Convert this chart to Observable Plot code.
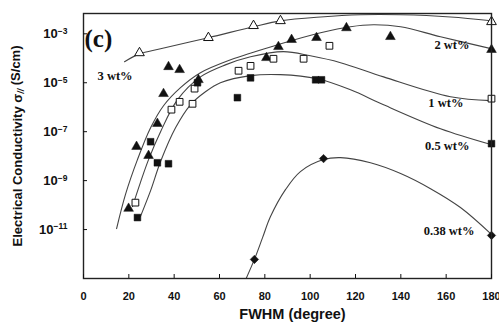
<!DOCTYPE html>
<html><head><meta charset="utf-8">
<script src="https://cdn.jsdelivr.net/npm/d3@7"></script>
<script src="https://cdn.jsdelivr.net/npm/@observablehq/plot@0.6"></script>
<style>
html,body{margin:0;padding:0;background:#fff;}
</style></head><body><div id="chart"></div>
<script>
// ---- Data (FWHM in degrees, conductivity as log10(S/cm)) ----
const fwhm_3wt = [24.7, 55.1, 75.0, 86.9, 180];
const logSigma_3wt = [-3.78, -3.16, -2.67, -2.47, -2.51];

const fwhm_2wt = [19.9, 23.4, 28.7, 32.6, 35.3, 37.5, 42.4, 50.7, 80.7, 86.0, 91.8, 102.8, 116.0, 135.4, 180];
const logSigma_2wt = [-10.14, -7.61, -7.98, -6.67, -5.45, -4.35, -4.47, -4.88, -3.98, -3.53, -3.24, -3.16, -2.76, -3.12, -3.65];

const fwhm_1wt = [22.9, 38.8, 42.4, 48.1, 49.0, 68.4, 73.7, 83.8, 97.1, 108.5, 180];
const logSigma_1wt = [-9.90, -6.10, -5.78, -5.86, -5.24, -4.51, -4.31, -4.02, -4.02, -3.49, -5.65];

const fwhm_05wt = [23.8, 29.6, 32.6, 37.5, 50.3, 67.9, 73.7, 102.4, 105.0, 180];
const logSigma_05wt = [-10.51, -7.41, -8.27, -8.31, -5.0, -5.61, -4.80, -4.88, -4.88, -7.49];

const fwhm_038wt = [75.4, 105.9, 180];
const logSigma_038wt = [-12.22, -8.10, -11.24];

// fitted curves as drawn in the figure
const fitX_3wt = [18.1, 24.7, 34.0, 55.1, 75.0, 86.9, 104.6, 122.2, 139.9, 161.9, 180];
const fitY_3wt = [-4.14, -3.82, -3.61, -3.16, -2.71, -2.47, -2.31, -2.22, -2.22, -2.31, -2.47];

const fitX_2wt = [14.6, 18.5, 23.8, 29.6, 35.3, 42.8, 51.6, 64.9, 85.6, 104.6, 117.8, 127.9, 139.9, 157.5, 180];
const fitY_2wt = [-10.96, -9.57, -8.14, -6.84, -5.94, -5.20, -4.59, -4.06, -3.45, -2.96, -2.71, -2.63, -2.71, -3.12, -3.61];

const fitX_1wt = [21.6, 25.1, 28.7, 34.0, 41.5, 51.6, 62.6, 73.7, 88.2, 100.1, 113.4, 132.4, 161.9, 180];
const fitY_1wt = [-10.06, -9.08, -8.14, -7.0, -5.69, -4.76, -4.27, -3.94, -3.73, -3.90, -4.18, -4.76, -5.57, -5.73];

const fitX_05wt = [25.1, 29.6, 34.0, 40.6, 47.2, 53.8, 60.4, 73.7, 86.9, 103.2, 117.8, 132.4, 157.5, 180];
const fitY_05wt = [-10.47, -9.41, -8.22, -6.84, -5.90, -5.37, -5.0, -4.71, -4.67, -4.84, -5.29, -5.90, -6.88, -7.53];

const fitX_038wt = [70.6, 75.4, 79.0, 82.5, 89.1, 95.7, 105.9, 113.4, 126.6, 139.9, 153.1, 166.3, 180];
const fitY_038wt = [-13.24, -12.22, -11.33, -10.47, -9.37, -8.63, -8.14, -8.06, -8.27, -8.71, -9.33, -10.10, -11.20];

// series labels
const seriesLabels = ["3 wt%", "2 wt%", "1 wt%", "0.5 wt%", "0.38 wt%"];
const labelX = [6.2, 170.3, 167.6, 170.3, 172.5];
const labelY = [-4.71, -3.45, -5.82, -7.57, -11.04];

// ticks
const xTicks = [0, 20, 40, 60, 80, 100, 120, 140, 160, 180];
const yTickExps = [-3, -5, -7, -9, -11];

const toPts = (xs, ys) => xs.map((x, i) => ({x, y: Math.pow(10, ys[i])}));

const P3 = toPts(fwhm_3wt, logSigma_3wt);
const P2 = toPts(fwhm_2wt, logSigma_2wt);
const P1 = toPts(fwhm_1wt, logSigma_1wt);
const P05 = toPts(fwhm_05wt, logSigma_05wt);
const P038 = toPts(fwhm_038wt, logSigma_038wt);
const fits = [
  toPts(fitX_3wt, fitY_3wt), toPts(fitX_2wt, fitY_2wt), toPts(fitX_1wt, fitY_1wt),
  toPts(fitX_05wt, fitY_05wt), toPts(fitX_038wt, fitY_038wt)
];
const labels = seriesLabels.map((t, i) => ({t, x: labelX[i], y: Math.pow(10, labelY[i])}));

const sans = "Liberation Sans, Arial, sans-serif";
const serif = "Liberation Serif, Times New Roman, serif";
const labelStyle = {x: "x", y: "y", text: "t", fontFamily: serif, fontWeight: "bold", fontSize: 12.5, fill: "#111"};

const chart = Plot.plot({
  width: 499, height: 329,
  marginLeft: 83, marginRight: 8, marginTop: 13, marginBottom: 51,
  style: {fontFamily: sans, background: "white", color: "#111"},
  x: {domain: [0, 180]},
  y: {type: "log", domain: [1e-13, Math.pow(10, -2.17)]},
  marks: [
    ...fits.map(f => Plot.line(f, {x: "x", y: "y", curve: "catmull-rom", stroke: "#444", strokeWidth: 1.1, clip: true})),
    Plot.dot(P3, {x: "x", y: "y", symbol: "triangle", r: 3.6, fill: "white", stroke: "#111", strokeWidth: 1}),
    Plot.dot(P2, {x: "x", y: "y", symbol: "triangle", r: 3.6, fill: "#111", stroke: "#111", strokeWidth: 0.5}),
    Plot.dot(P1, {x: "x", y: "y", symbol: "square", r: 3.8, fill: "white", stroke: "#111", strokeWidth: 1}),
    Plot.dot(P05, {x: "x", y: "y", symbol: "square", r: 3.8, fill: "#111", stroke: "#111", strokeWidth: 0.5}),
    Plot.dot(P038, {x: "x", y: "y", symbol: "diamond2", r: 3.8, fill: "#111", stroke: "#111", strokeWidth: 0.5}),
    Plot.text(labels.slice(0, 1), {...labelStyle, textAnchor: "start"}),
    Plot.text(labels.slice(1), {...labelStyle, textAnchor: "end"}),
    Plot.text(["(c)"], {frameAnchor: "top-left", dx: 1, dy: 16, textAnchor: "start", fontFamily: serif, fontWeight: "bold", fontSize: 25, fill: "#111"}),
    Plot.frame({stroke: "#222", strokeWidth: 1.4}),
    Plot.axisX({ticks: xTicks, tickSize: -4, tickPadding: 18, fontSize: 11, fontWeight: "bold", label: null}),
    Plot.axisY({ticks: yTickExps.map(e => Math.pow(10, e)), tickSize: -4, tickPadding: 20,
      tickFormat: d => "10^" + Math.round(Math.log10(d)), fontSize: 13, fontWeight: "bold", label: null}),
    Plot.text(["FWHM (degree)"], {frameAnchor: "bottom", dx: 5, dy: 40, fontSize: 14.5, fontWeight: "bold", fill: "#111"}),
    Plot.text(["Electrical Conductivity σ// (S/cm)"], {frameAnchor: "left", textAnchor: "middle", dx: -66, rotate: -90, fontSize: 13, fontWeight: "bold", fill: "#111"})
  ]
});

// render exponent labels as superscripts
d3.select(chart).selectAll('[aria-label="y-axis tick label"] text').each(function() {
  const s = this.textContent;
  if (!s.startsWith("10^")) return;
  const exp = s.slice(3).replace("-", "\u2212");
  const t = d3.select(this);
  t.text(null);
  t.append("tspan").text("10");
  t.append("tspan").attr("dy", "-0.5em").attr("font-size", "8.5px").text(exp);
});
// subscript on sigma
d3.select(chart).selectAll("text").each(function() {
  if (this.textContent === "Electrical Conductivity σ// (S/cm)") {
    const t = d3.select(this);
    t.text(null);
    t.append("tspan").text("Electrical Conductivity σ");
    t.append("tspan").attr("dy", "0.3em").attr("font-size", "9px").attr("font-style", "italic").text("//");
    t.append("tspan").attr("dy", "-0.3em").text(" (S/cm)");
  }
});
document.getElementById("chart").appendChild(chart);
</script></body></html>
